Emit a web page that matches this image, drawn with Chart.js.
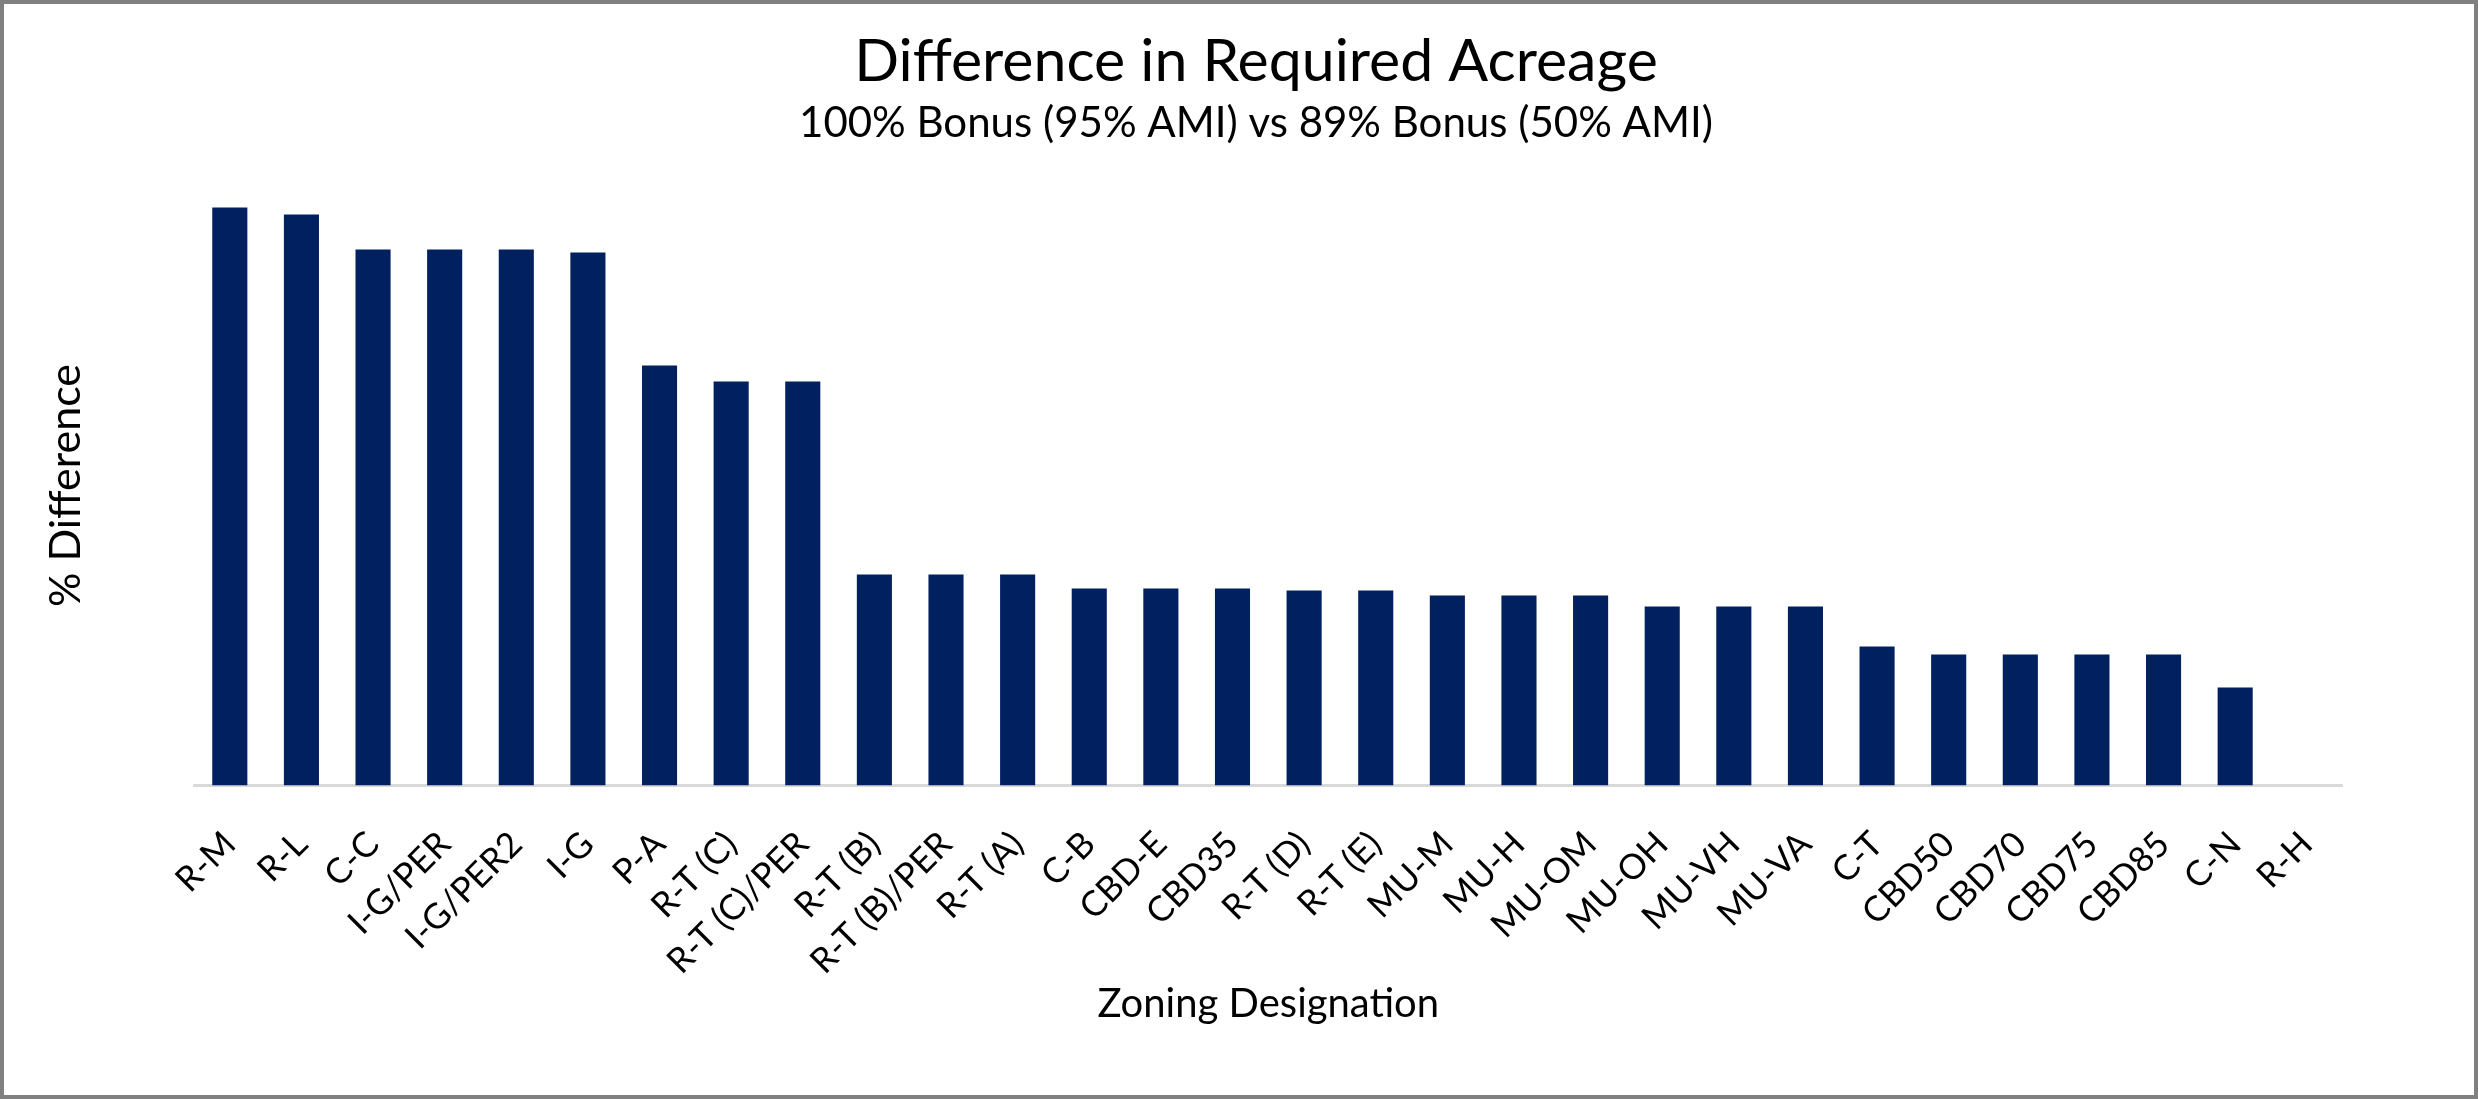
<!DOCTYPE html>
<html>
<head>
<meta charset="utf-8">
<script src="https://cdn.jsdelivr.net/npm/chart.js@4/dist/chart.umd.min.js"></script>
<style>
  body { margin: 0; background: #fff; }
  #wrap { width: 2470px; height: 1091px; border: 4px solid #808080; }
</style>
</head>
<body>
<div id="wrap"><canvas id="myChart" width="2470" height="1091"></canvas></div>
<script>
const zones = ['R-M', 'R-L', 'C-C', 'I-G/PER', 'I-G/PER2', 'I-G', 'P-A', 'R-T (C)', 'R-T (C)/PER',
  'R-T (B)', 'R-T (B)/PER', 'R-T (A)', 'C-B', 'CBD-E', 'CBD35', 'R-T (D)', 'R-T (E)', 'MU-M', 'MU-H',
  'MU-OM', 'MU-OH', 'MU-VH', 'MU-VA', 'C-T', 'CBD50', 'CBD70', 'CBD75', 'CBD85', 'C-N', 'R-H']
const pctDiff = [57.8, 57.1, 53.6, 53.6, 53.6, 53.3, 42.0, 40.4, 40.4,
  21.1, 21.1, 21.1, 19.7, 19.7, 19.7, 19.5, 19.5, 19.0, 19.0,
  19.0, 17.9, 17.9, 17.9, 13.9, 13.1, 13.1, 13.1, 13.1, 9.8, 0]
const yMax = 60

const font = 'Lato'
const ctx = document.getElementById('myChart')
const chart = new Chart(ctx, {
  type: 'bar',
  data: {
    labels: zones,
    datasets: [{
      label: '% Difference',
      data: pctDiff,
      backgroundColor: '#002060',
      categoryPercentage: 1,
      barPercentage: 0.49
    }]
  },
  options: {
    responsive: false,
    animation: false,
    devicePixelRatio: 1,
    layout: { padding: { left: 34, right: 0, top: 0, bottom: 0 } },
    plugins: {
      legend: { display: false },
      tooltip: { enabled: false },
      title: {
        display: true,
        text: 'Difference in Required Acreage',
        color: '#000',
        font: { family: font, size: 59, weight: 'normal' },
        padding: { top: 23, bottom: 0 }
      },
      subtitle: {
        display: true,
        text: '100% Bonus (95% AMI) vs 89% Bonus (50% AMI)',
        color: '#000',
        font: { family: font, size: 42, weight: 'normal' },
        padding: { top: 0, bottom: 37.3 }
      }
    },
    scales: {
      x: {
        grid: { display: false, drawTicks: false },
        border: { display: true, color: '#d9d9d9', width: 3 },
        ticks: {
          color: '#000',
          font: { family: font, size: 35 },
          minRotation: 45,
          maxRotation: 45,
          autoSkip: false,
          padding: 38
        },
        title: {
          display: true,
          text: 'Zoning Designation',
          color: '#000',
          font: { family: font, size: 40 },
          padding: { top: 0, bottom: 66.8 }
        },
        afterFit: (scale) => { scale.height = 309.5 }
      },
      y: {
        min: 0,
        max: yMax,
        grid: { display: false, drawTicks: false },
        border: { display: false },
        ticks: { display: false },
        title: {
          display: true,
          text: '% Difference',
          color: '#000',
          font: { family: font, size: 43 },
          padding: { top: 2, bottom: 0 }
        },
        afterFit: (scale) => { scale.width = 156 }
      },
      // empty right axis, only keeps the plot area off the right edge
      yRight: {
        position: 'right',
        grid: { display: false, drawTicks: false },
        border: { display: false },
        ticks: { display: false },
        afterFit: (scale) => { scale.width = 131.4 }
      }
    }
  }
})
</script>
</body>
</html>
